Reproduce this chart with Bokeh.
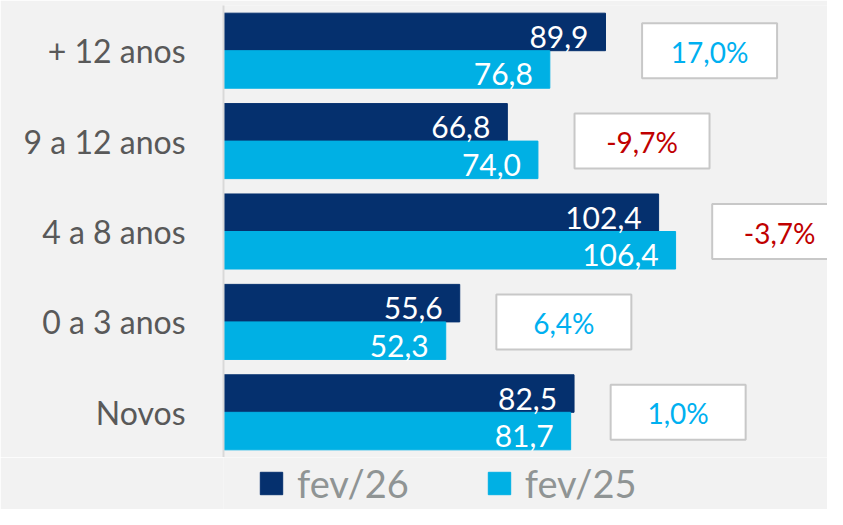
from bokeh.plotting import figure
from bokeh.layouts import column
from bokeh.models import ColumnDataSource, FactorRange, Range1d, Legend, LegendItem
from bokeh.transform import dodge
from bokeh.core.properties import value
from bokeh.embed import file_html
from bokeh.resources import INLINE

# ---- data (top to bottom as in the chart) ----
categories = ["+ 12 anos", "9 a 12 anos", "4 a 8 anos", "0 a 3 anos", "Novos"]
fev26 = [89.9, 66.8, 102.4, 55.6, 82.5]
fev25 = [76.8, 74.0, 106.4, 52.3, 81.7]
variation = [17.0, -9.7, -3.7, 6.4, 1.0]
series_names = ["fev/26", "fev/25"]

DARK = "#05306e"
CYAN = "#00b0e4"
BG = "#f2f2f2"
FONT = "Lato"

def fmt(v, suffix=""):
    return ("%.1f" % v).replace(".", ",") + suffix

src = ColumnDataSource(dict(
    cat=categories,
    fev26=fev26,
    fev25=fev25,
    lab26=[fmt(v) for v in fev26],
    lab25=[fmt(v) for v in fev25],
    boxx=[max(a, b) + 24.5 for a, b in zip(fev26, fev25)],
    pct=[fmt(v, "%") for v in variation],
    pctcol=["#00b0f0" if v >= 0 else "#c00000" for v in variation],
))

W = 827
H1, H2 = 457, 52
LEFT, TOP = 223, 5
XMAX = (W - LEFT) / 4.249
p = figure(width=W, height=H1, output_backend="svg", toolbar_location=None,
           y_range=FactorRange(*categories[::-1]),
           x_range=Range1d(0, XMAX),
           min_border_left=LEFT, min_border_right=0, min_border_top=TOP,
           min_border_bottom=0)
p.background_fill_color = BG
p.border_fill_color = BG
p.outline_line_color = None
p.xgrid.visible = False
p.ygrid.visible = False
p.xaxis.visible = False

yax = p.yaxis[0]
yax.major_tick_line_color = None
yax.minor_tick_line_color = None
yax.major_tick_out = 0
yax.major_tick_in = 0
yax.axis_line_color = "#d9d9d9"
yax.axis_line_width = 2
yax.major_label_standoff = 38
yax.major_label_text_font = FONT
yax.major_label_text_font_size = "32px"
yax.major_label_text_color = "#595959"

off = 0.2075
bh = 0.415
p.hbar(y=dodge("cat", off, range=p.y_range), right="fev26", left=0,
       height=bh, color=DARK, source=src)
p.hbar(y=dodge("cat", -off, range=p.y_range), right="fev25", left=0,
       height=bh, color=CYAN, source=src)

common = dict(text_align="right", text_baseline="middle", text_color="white",
              text_font=value(FONT), text_font_size="30px",
              x_offset=-17, y_offset=5, source=src)
p.text(x="fev26", y=dodge("cat", off, range=p.y_range), text="lab26", **common)
p.text(x="fev25", y=dodge("cat", -off, range=p.y_range), text="lab25", **common)

p.rect(x="boxx", y="cat", width=135, height=55, width_units="screen",
       height_units="screen", fill_color="white", line_color="#c8c8c8",
       line_width=2, source=src)
p.text(x="boxx", y="cat", text="pct", text_color="pctcol", text_align="center",
       text_baseline="middle", text_font=value(FONT), text_font_size="28px",
       y_offset=1, source=src)

# ---- legend strip (separate figure so the legend is not clipped) ----
# its bars lie entirely outside its canvas, so only the legend swatches show
lg = figure(width=W, height=H2, output_backend="svg", toolbar_location=None,
            x_range=Range1d(-2 * XMAX, -XMAX),
            y_range=FactorRange(*categories[::-1]),
            min_border_left=LEFT, min_border_right=0, min_border_top=0,
            min_border_bottom=0)
lg.background_fill_color = BG
lg.border_fill_color = BG
lg.outline_line_color = None
lg.axis.visible = False
lg.grid.visible = False
k26 = lg.hbar(y=dodge("cat", 20, range=lg.y_range), right="fev26", left=0,
              height=bh, color=DARK, source=src)
k25 = lg.hbar(y=dodge("cat", 20, range=lg.y_range), right="fev25", left=0,
              height=bh, color=CYAN, source=src)

legend = Legend(items=[LegendItem(label=series_names[0], renderers=[k26]),
                       LegendItem(label=series_names[1], renderers=[k25])],
                orientation="horizontal", location=(34, 3),
                glyph_width=28, glyph_height=28, label_standoff=12, spacing=76,
                padding=0, margin=0, border_line_color=None,
                background_fill_alpha=0, label_text_font=FONT,
                label_text_font_size="38px", label_text_color="#8f9494",
                label_height=28)
lg.add_layout(legend, "center")

open("out.html", "w").write(file_html(column(p, lg, spacing=0), INLINE))
